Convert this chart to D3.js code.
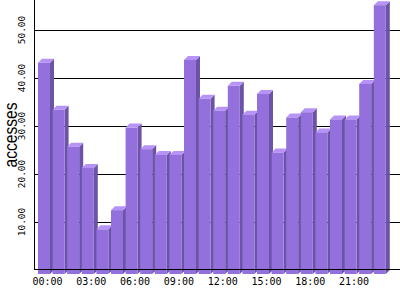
<!DOCTYPE html>
<html><head><meta charset="utf-8">
<script src="https://cdn.jsdelivr.net/npm/d3@7/dist/d3.min.js"></script>
<style>body{margin:0;background:#fff}svg{display:block}</style>
</head><body><svg id="c" width="400" height="300"></svg>
<script>
const hours = ["00:00","01:00","02:00","03:00","04:00","05:00","06:00","07:00","08:00","09:00","10:00","11:00","12:00","13:00","14:00","15:00","16:00","17:00","18:00","19:00","20:00","21:00","22:00","23:00"];
const accesses = [44.0,34.2,26.5,22.1,9.3,13.3,30.5,26.0,24.8,24.8,44.6,36.5,34.0,39.2,33.2,37.5,25.3,32.6,33.7,29.5,32.2,32.2,39.6,56.0];
const yTicks = [10,20,30,40,50];
const xLabelIdx = [0,3,6,9,12,15,18,21];

const svg = d3.select("#c");
const depth = 4;
const x = d3.scaleBand().domain(hours).range([38, 38 + 24*14.6 - 2.6]).paddingInner(0.178).paddingOuter(0);
const y = d3.scaleLinear().domain([0, 56.25]).range([270, 0]);

// gridlines
svg.append("g").selectAll("line").data(yTicks).join("line")
  .attr("x1", 34).attr("x2", 400).attr("y1", d => Math.round(y(d)) + 0.5).attr("y2", d => Math.round(y(d)) + 0.5)
  .attr("stroke", "#000").attr("stroke-width", 1);

// bars
const bw = x.bandwidth();
const g = svg.append("g");
hours.forEach((h, i) => {
  const v = accesses[i];
  const x0 = x(h), yTop = y(v) + depth, yBot = y(0) + depth;
  g.append("path").attr("fill", "#6b53a6")
    .attr("d", `M${x0+bw},${yTop} L${x0+bw+depth},${yTop-depth} L${x0+bw+depth},${yBot-depth} L${x0+bw},${yBot} Z`);
  g.append("path").attr("fill", "#b893f7")
    .attr("d", `M${x0},${yTop} L${x0+depth},${yTop-depth} L${x0+bw+depth},${yTop-depth} L${x0+bw},${yTop} Z`);
  g.append("rect").attr("fill", "#9370db").attr("x", x0).attr("y", yTop).attr("width", bw).attr("height", yBot - yTop);
});

// axes lines
svg.append("line").attr("x1", 34.5).attr("x2", 34.5).attr("y1", 0).attr("y2", 270).attr("stroke", "#000");
svg.append("line").attr("x1", 34).attr("x2", 400).attr("y1", 269.5).attr("y2", 269.5).attr("stroke", "#000");

// y tick labels
svg.append("g").selectAll("text").data(yTicks).join("text")
  .attr("transform", d => `translate(25,${y(d)}) rotate(-90)`)
  .attr("text-anchor", "middle")
  .attr("font-family", "DejaVu Sans Mono").attr("font-size", 9.5).attr("fill", "#000")
  .text(d => d3.format(".2f")(d));

// x tick labels
svg.append("g").selectAll("text").data(xLabelIdx).join("text")
  .attr("x", i => x(hours[i]) + bw/2 + 3.5).attr("y", 285)
  .attr("text-anchor", "middle")
  .attr("font-family", "DejaVu Sans Mono").attr("font-size", 10).attr("fill", "#000")
  .text(i => hours[i]);

// y axis title
svg.append("text").attr("transform", "translate(17,135) rotate(-90)")
  .attr("text-anchor", "middle")
  .attr("font-family", "Liberation Sans").attr("font-size", 18)
  .attr("textLength", 65).attr("lengthAdjust", "spacingAndGlyphs")
  .attr("fill", "#000").text("accesses");
</script></body></html>
